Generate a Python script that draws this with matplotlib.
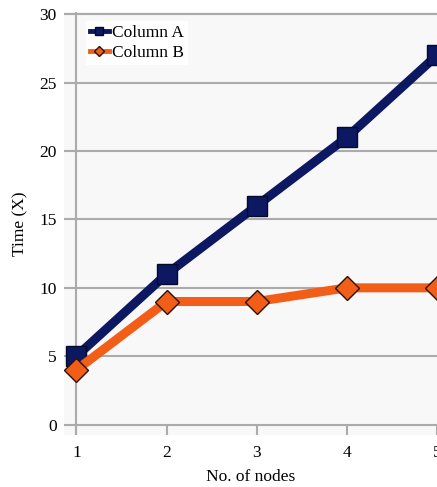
import matplotlib
matplotlib.use("Agg")
import matplotlib.pyplot as plt

nodes = [1, 2, 3, 4, 5]
column_a = [5, 11, 16, 21, 27]
column_b = [4, 9, 9, 10, 10]
yticks = [0, 5, 10, 15, 20, 25, 30]

plt.rcParams['font.family'] = ['Liberation Serif', 'DejaVu Serif']

fig = plt.figure(figsize=(4.37, 4.87), dpi=100)
ax = fig.add_axes([0.146, 0.107, 0.854, 0.868])
ax.set_facecolor('#f8f8f8')

ax.plot(nodes, column_a, color='#0c1862', lw=6.5, marker='s', ms=15,
        markerfacecolor='#0c1862', markeredgecolor='#050a2a', mew=1,
        label='Column A', zorder=3)
ax.plot(nodes, column_b, color='#f25e18', lw=6.5, marker='D', ms=12.5,
        markerfacecolor='#f25e18', markeredgecolor='#2a1005', mew=1,
        label='Column B', zorder=4)

ax.set_xlim(0.86, 5.0)
ax.set_ylim(-0.75, 30.15)
ax.set_xticks(nodes)
ax.set_yticks(yticks)
ax.yaxis.grid(True, color='#ababab', lw=1.5)
ax.axvline(nodes[0], color='#ababab', lw=1.5, zorder=1)
ax.set_axisbelow(True)
for s in ax.spines.values():
    s.set_visible(False)
ax.tick_params(axis='x', direction='in', colors='#ababab', length=7.5,
               width=1.5, labelcolor='black', labelsize=12.5, pad=7)
ax.tick_params(axis='y', length=0, labelcolor='black', labelsize=12.5, pad=5)
ax.set_xlabel('No. of nodes', fontsize=12.5, labelpad=6)
ax.set_ylabel('Time (X)', fontsize=12.5, labelpad=8)

leg = ax.legend(loc='upper left', bbox_to_anchor=(0.035, 1.0), fontsize=12.5,
                frameon=True, facecolor='white', edgecolor='none',
                framealpha=1, handlelength=1.1, handletextpad=0.15,
                borderpad=0.25, labelspacing=0.2, markerscale=0.4,
                fancybox=False)
for line in leg.get_lines():
    line.set_linewidth(3.5)

fig.savefig('out.png', dpi=100)
